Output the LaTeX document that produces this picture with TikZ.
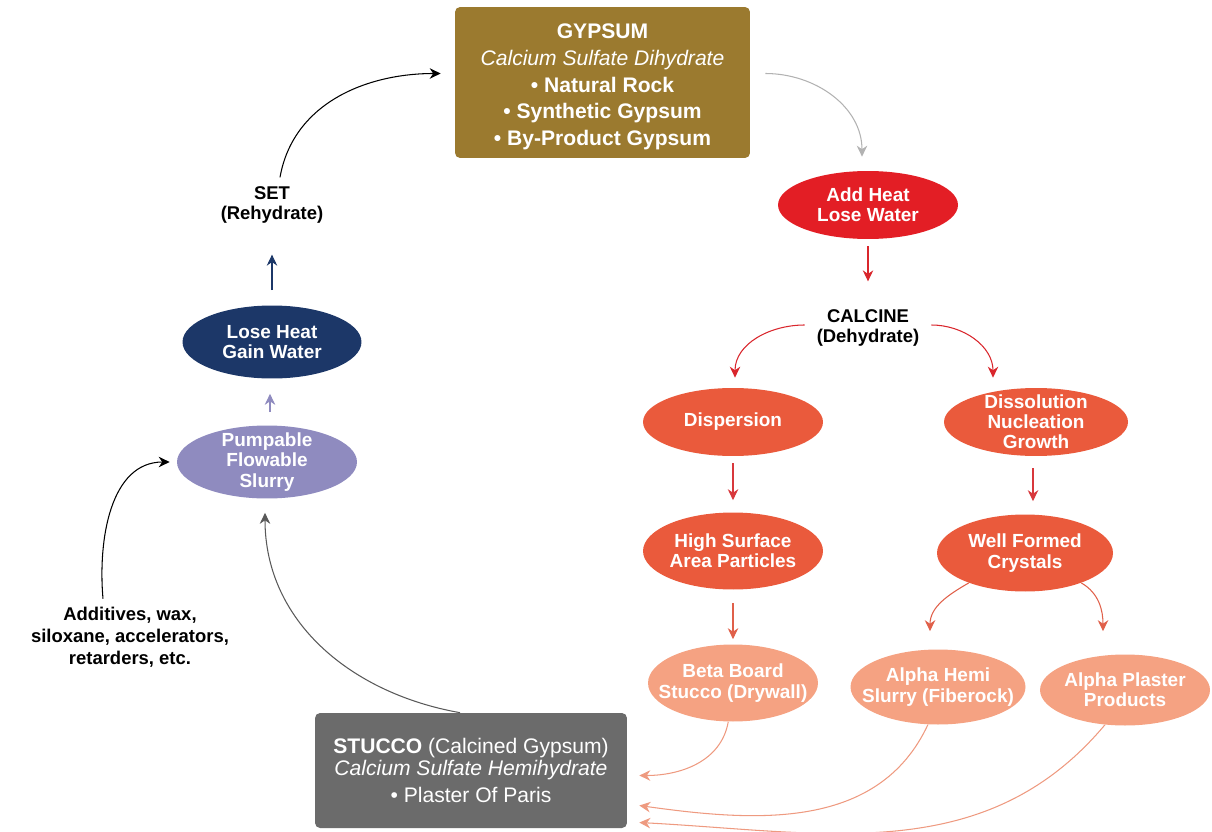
\documentclass[tikz,border=0pt]{standalone}
\usepackage{fontspec}
\setmainfont{Liberation Sans}
\usetikzlibrary{shapes.geometric,arrows.meta}

\definecolor{gypsumbrown}{HTML}{9B7A2F}
\definecolor{stuccogray}{HTML}{6B6B6B}
\definecolor{heatred}{HTML}{E31E25}
\definecolor{calcred}{HTML}{EA5A3C}
\definecolor{salmon}{HTML}{F5A282}
\definecolor{slurrylav}{HTML}{8F8BBF}
\definecolor{navy}{HTML}{1C3768}
\definecolor{arrowred}{HTML}{D9262C}
\definecolor{arrowmid}{HTML}{D8383C}
\definecolor{arrowlight}{HTML}{E0604A}
\definecolor{arrowpale}{HTML}{EE9A80}

\tikzset{
	oval/.style={ellipse, inner sep=-1cm, text=white, align=center,
		font=\fontsize{10.8}{11.5}\selectfont\bfseries,
		minimum width=3.6cm, minimum height=1.36cm},
	card/.style={rectangle, rounded corners=1mm, inner sep=0pt, text=white, align=center,
		font=\fontsize{12}{15.2}\selectfont},
	caption/.style={align=center, font=\fontsize{10.5}{11.5}\selectfont\bfseries},
	flow/.style={-{Stealth[length=2.2mm, width=2.1mm]}, line width=0.6pt},
}

\begin{document}
\begin{tikzpicture}[x=0.02cm, y=-0.02cm]
	\useasboundingbox (0,0) rectangle (1212,831);

	\node [card, fill=gypsumbrown, minimum width=5.9cm, minimum height=3.02cm] (gypsum) at (602.5,82.5)
		{\rule{0pt}{13.5pt}\textbf{GYPSUM}\\\textit{Calcium Sulfate Dihydrate}\\\textbf{• Natural Rock}\\\textbf{• Synthetic Gypsum}\\\textbf{• By-Product Gypsum}};
	\node [card, fill=stuccogray, minimum width=6.24cm, minimum height=2.3cm, font=\fontsize{12}{12.5}\selectfont] (stucco) at (471,770.5)
		{\textbf{STUCCO} (Calcined Gypsum)\\\textit{Calcium Sulfate Hemihydrate}\\[3pt]• Plaster Of Paris};

	\node [oval, fill=heatred] (add_heat) at (868,205) {Add Heat\\Lose Water};
	\node [caption] (calcine) at (868,328) {CALCINE\\(Dehydrate)};

	\node [oval, fill=calcred] (dispersion) at (733,422) {Dispersion};
	\node [oval, fill=calcred, minimum width=3.68cm] (dissolution) at (1036,422) {Dissolution\\Nucleation\\Growth};
	\node [oval, fill=calcred, minimum height=1.54cm] (high_surface) at (733,551) {High Surface\\Area Particles};
	\node [oval, fill=calcred, minimum width=3.52cm, minimum height=1.54cm] (well_formed) at (1025,553) {Well Formed\\Crystals};

	\node [oval, fill=salmon, minimum width=3.4cm, minimum height=1.54cm] (beta_board) at (733,683) {Beta Board\\Stucco (Drywall)};
	\node [oval, fill=salmon, minimum width=3.5cm, minimum height=1.5cm] (alpha_hemi) at (938,687) {Alpha Hemi\\Slurry (Fiberock)};
	\node [oval, fill=salmon, minimum width=3.4cm, minimum height=1.42cm] (alpha_plaster) at (1125,690) {Alpha Plaster\\Products};

	\node [oval, fill=slurrylav, minimum height=1.46cm] (slurry) at (267,462) {Pumpable\\Flowable\\Slurry};
	\node [oval, fill=navy, minimum width=3.58cm, minimum height=1.46cm] (lose_heat) at (272,342) {Lose Heat\\Gain Water};
	\node [caption] (set) at (272,205) {SET\\(Rehydrate)};
	\node [caption, font=\fontsize{10.5}{12.5}\selectfont\bfseries] (additives) at (130,637) {Additives, wax,\\siloxane, accelerators,\\retarders, etc.};

	\draw [flow, black!30] ([shift={(15,-9)}]gypsum.east) to[out=0, in=90] ([shift={(-6,-14)}]add_heat.north);
	\draw [flow, arrowred] ([shift={(0,7)}]add_heat.south) -- ([shift={(0,-22)}]calcine.north);
	\draw [flow, arrowred] ([shift={(-6,-3)}]calcine.west) to[out=180, in=90] ([shift={(2,-10)}]dispersion.north);
	\draw [flow, arrowred] ([shift={(6,-3)}]calcine.east) to[out=0, in=90] ([shift={(-43,-10)}]dissolution.north);
	\draw [flow, arrowmid] ([shift={(0,7)}]dispersion.south) -- ([shift={(0,-12)}]high_surface.north);
	\draw [flow, arrowmid] ([shift={(-3,12)}]dissolution.south) -- ([shift={(8,-13)}]well_formed.north);
	\draw [flow, arrowlight] ([shift={(0,13)}]high_surface.south) -- ([shift={(0,-5)}]beta_board.north);
	\draw [flow, arrowlight] (well_formed.208) to[out=210, in=90] ([shift={(-8,-18)}]alpha_hemi.north);
	\draw [flow, arrowlight] (well_formed.332) to[out=-30, in=90] ([shift={(-22,-23)}]alpha_plaster.north);

	\draw [flow, arrowpale] (beta_board.263) to[out=-100, in=0] ([shift={(12,5)}]stucco.east);
	\draw [flow, arrowpale] (alpha_hemi.255) to[out=-115, in=-8] ([shift={(12,35)}]stucco.east);
	\draw [flow, arrowpale] (alpha_plaster.240) to[out=-130, in=-3] ([shift={(12,52)}]stucco.east);

	\draw [flow, black!65] ([shift={(-11,0)}]stucco.north) to[out=170, in=-90] ([shift={(-2,14)}]slurry.south);
	\draw [flow, black] ([shift={(-27,-2)}]additives.north) to[out=95, in=180] ([shift={(-7,0)}]slurry.west);
	\draw [flow, slurrylav] ([shift={(3,-13)}]slurry.north) -- ([shift={(-2,15)}]lose_heat.south);
	\draw [flow, navy] ([shift={(0,-15)}]lose_heat.north) -- ([shift={(0,25)}]set.south);
	\draw [flow, black] ([shift={(8,-3)}]set.north) to[out=80, in=180] ([shift={(-14,-9)}]gypsum.west);
\end{tikzpicture}
\end{document}
